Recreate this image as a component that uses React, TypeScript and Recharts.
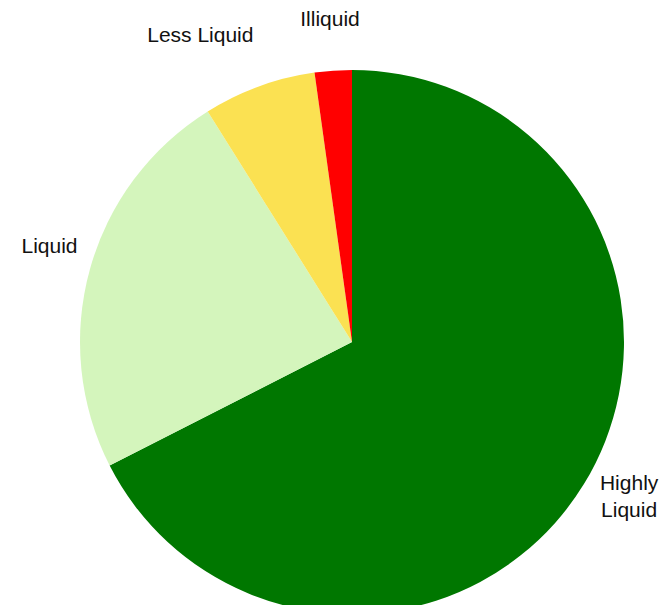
import React from "react";
import { PieChart, Pie, Cell } from "recharts";

const categories = ["Highly Liquid", "Liquid", "Less Liquid", "Illiquid"];
const shares = [67.5, 23.6, 6.7, 2.2];
const colors = ["#007700", "#d4f5bc", "#fbe152", "#ff0000"];

// small shifts so the outside labels sit clear of each other
const labelNudge: Record<string, { dx: number; dy: number }> = {
  "Highly Liquid": { dx: 6, dy: -13 },
  Liquid: { dx: 4, dy: -12 },
  "Less Liquid": { dx: -43, dy: -9 },
  Illiquid: { dx: 0, dy: -7 },
};

const data = categories.map((name, i) => ({ name, value: shares[i] }));

const RAD = Math.PI / 180;

function renderLabel(props: any) {
  const { cx, cy, midAngle, outerRadius, name } = props;
  const r = outerRadius + 46;
  const nudge = labelNudge[name] || { dx: 0, dy: 0 };
  const x = cx + r * Math.cos(-midAngle * RAD) + nudge.dx;
  const y = cy + r * Math.sin(-midAngle * RAD) + nudge.dy;
  const words = name === "Highly Liquid" ? ["Highly", "Liquid"] : [name];
  const lineH = 27;
  const top = y - ((words.length - 1) * lineH) / 2;
  return (
    <text
      x={x}
      y={top}
      textAnchor="middle"
      dominantBaseline="central"
      fill="#111"
      fontSize={21}
      fontFamily="'Liberation Sans', Arial, sans-serif"
    >
      {words.map((w, i) => (
        <tspan key={w} x={x} y={top + i * lineH}>
          {w}
        </tspan>
      ))}
    </text>
  );
}

export default function App() {
  return (
    <div style={{ position: "absolute", left: 0, top: 0, width: 669, height: 605 }}>
      <PieChart width={669} height={605} margin={{ top: 0, right: 0, bottom: 0, left: 0 }}>
        <Pie
          data={data}
          dataKey="value"
          nameKey="name"
          cx={352}
          cy={342}
          outerRadius={272}
          startAngle={90}
          endAngle={-270}
          stroke="none"
          label={renderLabel}
          labelLine={false}
          isAnimationActive={false}
        >
          {data.map((d, i) => (
            <Cell key={d.name} fill={colors[i]} />
          ))}
        </Pie>
      </PieChart>
    </div>
  );
}
